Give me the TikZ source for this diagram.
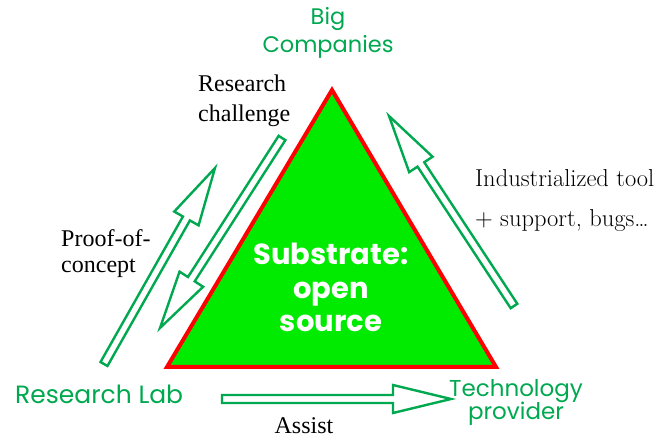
\documentclass[tikz,border=0pt]{standalone}
\usepackage{fontspec}
\usetikzlibrary{calc}
\newfontfamily\comicfont{Poppins}
\newfontfamily\timesfont{Liberation Serif}
\definecolor{labgreen}{RGB}{0,168,80}
\definecolor{basegreen}{RGB}{0,235,0}

\tikzset{
  greenlabel/.style={text=labgreen, inner sep=0pt, align=center,
    font=\comicfont\fontsize{22.5}{28}\selectfont},
  blacklabel/.style={inner sep=0pt, align=left,
    font=\timesfont\fontsize{24}{30}\selectfont},
  cmlabel/.style={inner sep=0pt, anchor=base west,
    font=\fontsize{24.5}{28}\selectfont},
  blockarrow/.style={draw=labgreen, line width=2.4pt, fill=white, line join=miter},
  basetriangle/.style={draw=red, line width=4pt, fill=basegreen, line join=miter}
}

% hollow block arrow from #1 (tail) to #2 (tip)
\newcommand{\hollowarrow}[2]{%
  \coordinate (h) at ($(#2)!58pt!(#1)$);
  \draw[blockarrow] ($(#1)!4pt!90:(#2)$) -- ($(h)!4pt!90:(#2)$)
    -- ($(h)!14pt!90:(#2)$) -- (#2) -- ($(h)!14pt!-90:(#2)$)
    -- ($(h)!4pt!-90:(#2)$) -- ($(#1)!4pt!-90:(#2)$) -- cycle;
}

\begin{document}
\begin{tikzpicture}[x=1pt,y=-1pt]
  \useasboundingbox (0,0) rectangle (659,438);

  \coordinate (top) at (332,90);
  \coordinate (left) at (167,367);
  \coordinate (right) at (496,367);
  \draw[basetriangle] (top) -- (left) -- (right) -- cycle;
  \node[text=white, inner sep=0pt, align=center, anchor=base,
    font=\comicfont\bfseries\fontsize{29}{33.5}\selectfont] (substrate) at (331,332)
    {Substrate:\\open\\source};

  \node[greenlabel, anchor=base] (big) at (328,53) {Big\\Companies};
  \node[greenlabel, anchor=base west, font=\comicfont\fontsize{25}{28}\selectfont] (lab) at (15,403) {Research Lab};
  \node[greenlabel, anchor=base, font=\comicfont\fontsize{23}{24}\selectfont] (provider) at (516,420) {Technology\\provider};

  \node[blacklabel, anchor=base west] (challenge) at (198,122) {Research\\challenge};
  \node[blacklabel, anchor=base west, font=\timesfont\fontsize{24}{26}\selectfont] (proof) at (61,273) {Proof-of-\\concept};
  \node[blacklabel, anchor=base] (assist) at (304,433) {Assist};
  \node[cmlabel] (industrial) at (475,187) {Industrialized tool};
  \node[cmlabel] (support) at (475,227) {+ support, bugs\dots};

  \coordinate (prooftail) at (104,364);
  \coordinate (prooftip) at (215,168);
  \coordinate (challtail) at (282,138);
  \coordinate (challtip) at (160,328);
  \coordinate (tooltail) at (514,306);
  \coordinate (tooltip) at (389,116);
  \coordinate (assisttail) at (222,399);
  \coordinate (assisttip) at (451,399);
  \hollowarrow{prooftail}{prooftip}
  \hollowarrow{challtail}{challtip}
  \hollowarrow{tooltail}{tooltip}
  \hollowarrow{assisttail}{assisttip}
\end{tikzpicture}
\end{document}
